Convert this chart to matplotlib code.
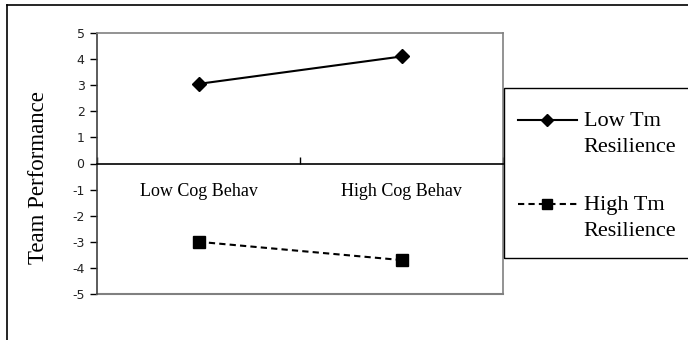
import matplotlib
matplotlib.use("Agg")
import numpy as np
import matplotlib.pyplot as plt
from matplotlib.lines import Line2D
from matplotlib.patches import Rectangle
from matplotlib.legend_handler import HandlerLine2D

categories = ["Low Cog Behav", "High Cog Behav"]
series_names = ["Low Tm\nResilience", "High Tm\nResilience"]
low_tm = [3.05, 4.1]
high_tm = [-3.0, -3.7]
yticks = [5, 4, 3, 2, 1, 0, -1, -2, -3, -4, -5]

W, H = 688, 340
fig = plt.figure(figsize=(W / 100, H / 100), dpi=100)

# outer frame (left and top edges visible)
fig.add_artist(Line2D([7 / W, 7 / W], [0, 1 - 5 / H], transform=fig.transFigure, color="black", lw=1.2))
fig.add_artist(Line2D([7 / W, 1], [1 - 5 / H, 1 - 5 / H], transform=fig.transFigure, color="black", lw=1.2))

ax = fig.add_axes([97 / W, 1 - 294 / H, (503 - 97) / W, (294 - 33) / H])
x = list(range(len(categories)))
serif = "Liberation Serif"

ax.plot(x, low_tm, color="black", lw=1.5, marker="D", markersize=7.5, label=series_names[0])
ax.plot(x, high_tm, color="black", lw=1.5, ls=(0, (3, 2)), marker="s", markersize=9, label=series_names[1])

ax.set_xlim(-0.5, len(categories) - 0.5)
ax.set_ylim(-5, 5)
ax.set_yticks(yticks)
ax.set_yticklabels([str(v) for v in yticks], fontsize=9, family="DejaVu Sans", color="#222222")
ax.tick_params(axis="y", direction="out", length=5, width=1, pad=4)

for s in ["top", "right"]:
    ax.spines[s].set_color("#808080")
    ax.spines[s].set_linewidth(1.2)
ax.spines["left"].set_color("#404040")
ax.spines["left"].set_linewidth(1.2)
ax.spines["bottom"].set_position(("data", 0))
ax.spines["bottom"].set_color("black")
ax.spines["bottom"].set_linewidth(1.2)
# gray bottom border of plot area
ax.add_artist(Line2D([0, 1], [0, 0], transform=ax.transAxes, color="#808080", lw=1.5, clip_on=False))

ax.set_xticks(x)
ax.set_xticklabels(categories, fontsize=13, family=serif)
ax.tick_params(axis="x", which="major", length=0, pad=14)
ax.set_xticks([-0.5, 0.5, 1.5], minor=True)
ax.tick_params(axis="x", which="minor", direction="in", length=5, width=1)

ax.set_ylabel("Team Performance", fontsize=16.5, family=serif)
ax.yaxis.set_label_coords((49 - 97) / 406, 0.446)


class RaisedHandler(HandlerLine2D):
    def __init__(self, shift, **kw):
        super().__init__(**kw)
        self.shift = shift

    def create_artists(self, legend, orig_handle, xdescent, ydescent, width, height, fontsize, trans):
        arts = super().create_artists(legend, orig_handle, xdescent, ydescent, width, height, fontsize, trans)
        for a in arts:
            a.set_ydata(np.asarray(a.get_ydata(), dtype=float) + self.shift)
        return arts


# legend frame
fig.add_artist(Rectangle((504 / W, 1 - 258 / H), 0.5, 170 / H, transform=fig.transFigure,
                         facecolor="none", edgecolor="black", lw=1.0))

h1, h2 = ax.get_lines()[:2]
leg = ax.legend(loc="upper left", bbox_to_anchor=(518 / W, 1 - 112 / H),
                bbox_transform=fig.transFigure,
                prop={"family": serif, "size": 16}, frameon=False,
                handlelength=2.65, handletextpad=0.3,
                labelspacing=1.76, borderpad=0, borderaxespad=0, markerscale=0.75,
                handler_map={h1: RaisedHandler(9.5), h2: RaisedHandler(9.5)})
for t in leg.get_texts():
    t.set_linespacing(1.49)

fig.savefig("out.png", dpi=100)
